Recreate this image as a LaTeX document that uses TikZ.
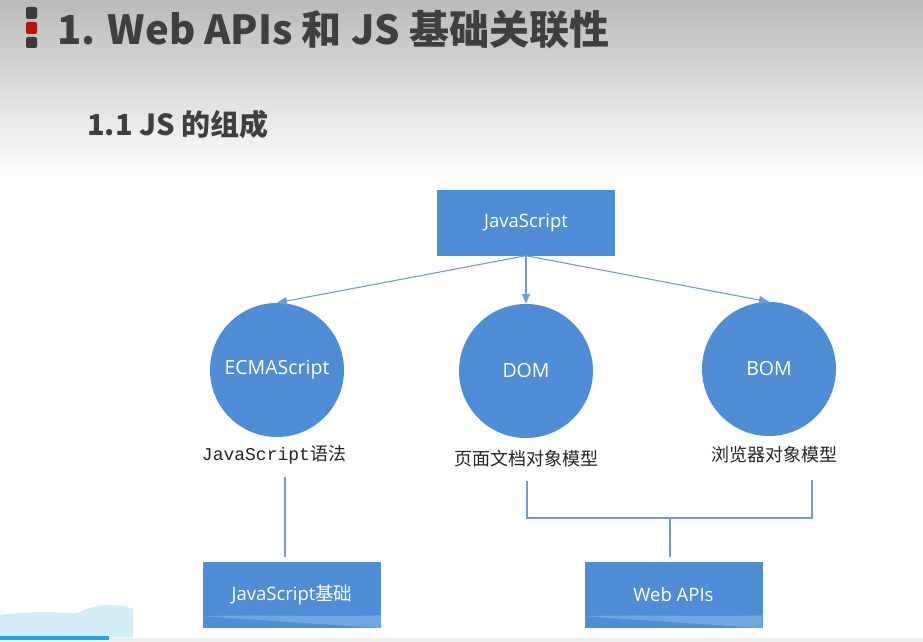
\documentclass[tikz,border=0pt]{standalone}
\usepackage{fontspec}
\newfontfamily\cjk{Noto Sans CJK SC}
\newfontfamily\uifont{Open Sans}
\newfontfamily\monof{Liberation Mono}
\usetikzlibrary{arrows.meta}
\definecolor{boxblue}{HTML}{4F8DD7}
\definecolor{bandblue}{HTML}{72A6DF}
\definecolor{lineblue}{HTML}{6F9CD8}
\definecolor{titlegray}{HTML}{3F3F3F}
\definecolor{iconred}{HTML}{B3170E}
\definecolor{icondark}{HTML}{3A3A3A}
\definecolor{wave}{HTML}{D2ECF8}
\definecolor{progress}{HTML}{1EAAE6}
\begin{document}
\begin{tikzpicture}[x=1pt,y=-1pt,
  rectbox/.style={fill=boxblue,draw=none,minimum width=178pt,minimum height=66pt,inner sep=0pt,text=white,font=\uifont\fontsize{18.5}{18.5}\selectfont},
  ball/.style={circle,fill=boxblue,draw=none,minimum size=134pt,inner sep=0pt,text=white,font=\uifont\fontsize{19.5}{19.5}\selectfont},
  lbl/.style={inner sep=0pt,text=black!85,font=\cjk\fontsize{18}{18}\selectfont},
  arr/.style={draw=lineblue,line width=1.1pt,-{Triangle[length=10pt,width=8pt]}},
  conn/.style={draw=lineblue,line width=1.1pt},
  icon/.style={fill=#1,rounded corners=2pt,draw=none}
]
\useasboundingbox (0,0) rectangle (923,642);
% background header gradient
\fill[white] (0,0) rectangle (923,642);
\shade[top color=black!27,bottom color=white] (0,0) rectangle (923,178);
% icon
\fill[icon=icondark] (26,7) rectangle (37,19);
\fill[icon=iconred] (26,22) rectangle (37,34);
\fill[icon=icondark] (26,37) rectangle (37,48);
% titles
\node[anchor=base west,inner sep=0pt,text=titlegray,font=\cjk\bfseries\fontsize{40}{40}\selectfont] (title) at (57,45) {1. Web APIs 和 JS 基础关联性};
\node[anchor=base west,inner sep=0pt,text=titlegray,font=\cjk\bfseries\fontsize{29}{29}\selectfont] (sub) at (87,135) {1.1 JS 的组成};
% nodes
\node[rectbox] (js) at (526,222.5) {JavaScript};
\node[ball] (ecma) at (277,370) {ECMAScript};
\node[ball] (dom) at (526,371) {DOM};
\node[ball] (bom) at (769,369) {BOM};
\node[lbl] (l1) at (274,455) {{\monof JavaScript}语法};
\node[lbl] (l2) at (526,459) {页面文档对象模型};
\node[lbl] (l3) at (774,455) {浏览器对象模型};
\node[rectbox] (jsb) at (292,595) {JavaScript{\cjk 基础}};
\node[rectbox] (wapi) at (673.5,595) {Web APIs};
% lighter bands at bottom of boxes
\foreach \b in {jsb,wapi}{
  \fill[bandblue] (\b.south west) ++(0,-12) .. controls ++(60,-2) and ++(-60,2) .. ++(178,-1) -- (\b.south east) -- cycle;
}
% arrows
\draw[arr] (js.south) -- (ecma.north);
\draw[arr] (js.south) -- (dom.north);
\draw[arr] (js.south) -- (bom.north);
% connectors
\coordinate (c1) at (285,477);
\coordinate (c2) at (527,481);
\coordinate (c3) at (812,480);
\coordinate (c4) at (670,518);
\draw[conn] (c1) -- (285,557);
\draw[conn] (c2) -- (c2 |- c4) -- (c3 |- c4) -- (c3);
\draw[conn] (c4) -- (670,557);
% bottom video bar
\fill[black!7] (0,638) rectangle (923,642);
\fill[wave] (0,615) .. controls (15,613) and (30,612) .. (48,612) .. controls (60,612) and (70,614) .. (78,613) .. controls (88,608) and (96,605) .. (108,605) .. controls (118,605) and (126,606) .. (133,609) -- (133,637) -- (0,637) -- cycle;
\fill[progress] (0,636) rectangle (109,640);
\end{tikzpicture}
\end{document}
